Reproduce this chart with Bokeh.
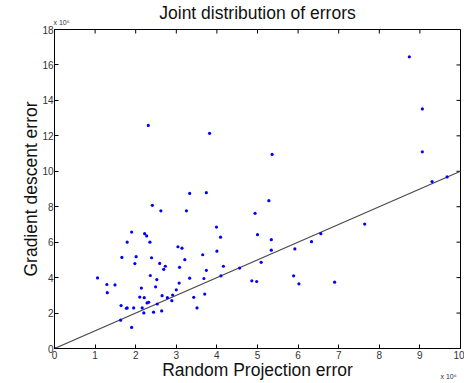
import math
from bokeh.plotting import figure
from bokeh.models import Range1d, Label, FixedTicker
from bokeh.embed import file_html
from bokeh.resources import INLINE

# Data in units of 1e6
rp_error = [0.0, 1.06, 1.29, 1.30, 1.49, 1.64, 1.63, 1.66, 1.77, 1.79, 1.79, 1.90, 1.90, 1.95,
            1.98, 2.01, 2.10, 2.14, 2.16, 2.20, 2.21, 2.22, 2.27, 2.28, 2.32, 2.35,
            2.36, 2.39, 2.41, 2.44, 2.49, 2.52, 2.53, 2.59, 2.62, 2.65, 2.64, 2.69,
            2.73, 2.78, 2.89, 2.91, 3.00, 3.04, 3.07, 3.08, 3.14, 3.21, 3.25, 3.33,
            3.33, 3.43, 3.51, 3.65, 3.68, 3.70, 3.74, 3.74, 3.99, 4.00, 4.09, 4.10,
            4.16, 2.31, 3.82, 8.74, 9.06, 9.06, 5.36, 9.30, 9.67, 5.28, 4.94, 5.00,
            5.34, 5.34, 5.09, 4.56, 4.86, 4.98, 5.92, 5.89, 6.02, 6.33, 6.56, 6.90,
            7.64]
gd_error = [0.0, 3.98, 3.61, 3.15, 3.59, 2.42, 1.60, 5.14, 2.27, 2.29, 6.00, 6.57, 1.19, 2.29,
            4.79, 5.18, 2.90, 3.41, 2.29, 2.01, 2.87, 6.48, 6.35, 2.57, 2.61, 6.00,
            4.12, 5.12, 8.08, 2.05, 3.48, 3.89, 2.51, 4.80, 7.77, 2.98, 2.12, 4.47,
            4.64, 2.87, 2.70, 3.02, 3.31, 5.74, 3.69, 4.58, 5.66, 5.01, 7.77, 8.75,
            3.97, 2.89, 2.29, 5.29, 3.95, 3.07, 8.79, 4.41, 6.85, 5.49, 6.28, 4.10,
            4.64, 12.59, 12.14, 16.46, 13.52, 11.10, 10.95, 9.42, 9.68, 8.34, 7.63, 6.42,
            6.14, 5.55, 4.86, 4.54, 3.82, 3.78, 5.62, 4.10, 3.65, 6.03, 6.48, 3.74,
            7.02]
ref_x = [0, 10]
ref_y = [0, 10]
x_ticks = list(range(0, 11))
y_ticks = list(range(0, 19, 2))
X_MAX, Y_MAX = 10, 18
EXP_TEXT = "x 10\u2076"

FONT = "Liberation Sans"

p = figure(width=464, height=383, output_backend="svg", toolbar_location=None,
           x_range=Range1d(0, X_MAX), y_range=Range1d(0, Y_MAX),
           min_border_left=54, min_border_right=4, min_border_top=26, min_border_bottom=35)
p.grid.visible = False
p.outline_line_color = "black"
p.background_fill_color = "white"
p.border_fill_color = "white"

p.title.text = "Joint distribution of errors"
p.title.align = "center"
p.title.text_font = FONT
p.title.text_font_size = "17.5px"
p.title.text_font_style = "normal"
p.title.text_color = "#111111"
p.title.text_line_height = 0.8
p.title.standoff = 0

for ax in (p.xaxis[0], p.yaxis[0]):
    ax.major_tick_in = 4
    ax.major_tick_out = 0
    ax.minor_tick_in = 0
    ax.minor_tick_out = 0
    ax.axis_line_color = "black"
    ax.major_tick_line_color = "black"
    ax.major_label_text_font = FONT
    ax.major_label_text_font_size = "10px"
    ax.major_label_text_color = "#333333"
    ax.major_label_standoff = 3
    ax.axis_label_text_font = FONT
    ax.axis_label_text_font_size = "17.5px"
    ax.axis_label_text_font_style = "normal"
    ax.axis_label_text_color = "#111111"
p.xaxis[0].ticker = FixedTicker(ticks=x_ticks)
p.yaxis[0].ticker = FixedTicker(ticks=y_ticks)
p.xaxis[0].axis_label = "Random Projection error"
p.yaxis[0].axis_label = "Gradient descent error"
p.xaxis[0].major_label_standoff = 2
p.xaxis[0].axis_label_standoff = -2
p.yaxis[0].major_label_standoff = 1
p.yaxis[0].axis_label_standoff = -2

# inward ticks on top and right edges of the box
p.ray(x=x_ticks, y=[Y_MAX] * len(x_ticks), length=4, length_units="screen",
      angle=-math.pi / 2, line_color="black", line_width=1)
p.ray(x=[X_MAX] * len(y_ticks), y=y_ticks, length=4, length_units="screen",
      angle=math.pi, line_color="black", line_width=1)

p.line(ref_x, ref_y, line_color="#4a4a4a", line_width=1.2)
p.scatter(rp_error, gd_error, size=3.2, marker="circle", fill_color="#0000ff",
          line_color="#0000ff", line_width=0)

# exponent labels: one in the top panel (y axis), one in the left panel (x axis)
p.add_layout(Label(x=-1, y=4, x_units="screen", y_units="screen", text=EXP_TEXT,
                   text_font=FONT, text_font_size="7px", text_color="#333333",
                   text_line_height=0.8), "above")
p.add_layout(Label(x=438, y=-31, x_units="screen", y_units="screen", text=EXP_TEXT,
                   text_font=FONT, text_font_size="7px", text_color="#333333"), "left")

open("out.html", "w").write(file_html(p, INLINE))
